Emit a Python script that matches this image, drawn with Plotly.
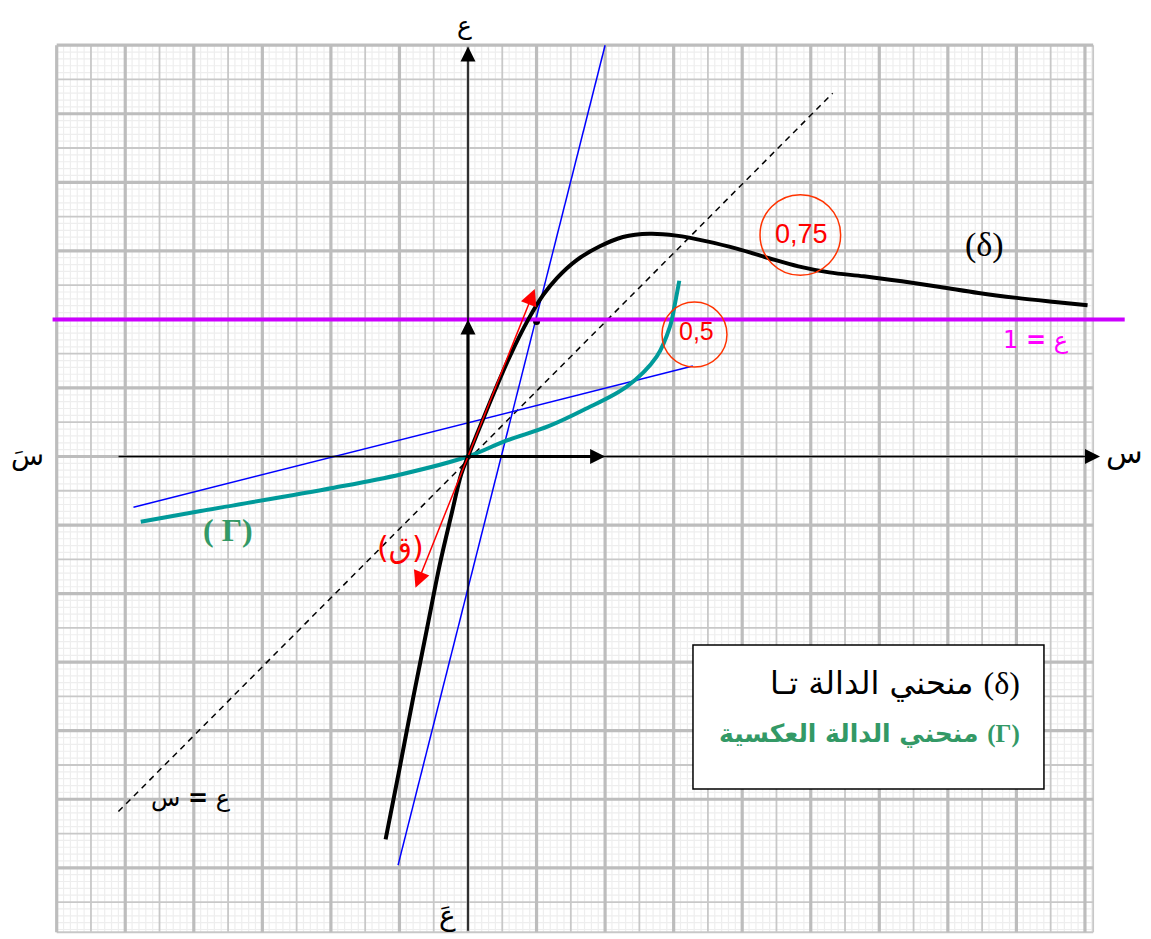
import numpy as np
import plotly.graph_objects as go

# curve (delta)
delta_x = [-0.601, -0.50, -0.40, -0.30, -0.204, -0.12, -0.05, 0.0, 0.1, 0.2, 0.3,
           0.44, 0.55, 0.647, 0.793, 0.962, 1.13, 1.325, 1.52, 1.743, 1.966, 2.19,
           2.41, 2.635, 2.887, 3.165, 3.444, 3.724, 4.002, 4.281, 4.519]
delta_y = [-2.792, -2.28, -1.76, -1.26, -0.78, -0.42, -0.13, 0.0, 0.248, 0.49, 0.72,
           1.0, 1.18, 1.30, 1.433, 1.533, 1.601, 1.625, 1.611, 1.569, 1.514, 1.448,
           1.387, 1.343, 1.314, 1.278, 1.237, 1.193, 1.157, 1.127, 1.103]

# inverse curve (Gamma)
gamma_x = [-2.387, -1.95, -0.978, -0.492, 0.0, 0.27, 0.588, 0.842, 1.158, 1.376,
           1.473, 1.51, 1.541]
gamma_y = [-0.476, -0.398, -0.228, -0.131, 0.0, 0.112, 0.221, 0.339, 0.509, 0.728,
           0.947, 1.117, 1.282]

# straight lines (end points)
tan1_x, tan1_y = [-0.51, 1.0], [-2.98, 3.0]
tan2_x, tan2_y = [-2.44, 1.64], [-0.37, 0.66]
bis_x, bis_y = [-2.55, 2.66], [-2.59, 2.65]
asym_x, asym_y = [-3.03, 4.79], [1.0, 1.0]
tan0_x, tan0_y = [-0.383, 0.487], [-0.957, 1.222]
dot_x, dot_y = [0.5], [0.985]

fig = go.Figure()


def lines(segs, color, width):
    xs, ys = [], []
    for (a, b) in segs:
        xs += [a[0], b[0], None]
        ys += [a[1], b[1], None]
    fig.add_trace(go.Scatter(x=xs, y=ys, mode="lines", hoverinfo="skip",
                             line=dict(color=color, width=width), showlegend=False))


# graph paper
X0, X1, Y0, Y1 = -3.0, 4.56, -3.47, 3.0
fine, med, thick = [], [], []
for k in range(-60, 92):
    x = k / 20
    seg = ((x, Y0), (x, Y1))
    (thick if k % 10 == 0 else med if k % 5 == 0 else fine).append(seg)
for k in range(-69, 61):
    y = k / 20
    seg = ((X0, y), (X1, y))
    (thick if k % 10 == 0 else med if k % 5 == 0 else fine).append(seg)
med += [((X1, Y0), (X1, Y1)), ((X0, Y0), (X1, Y0))]
lines(fine, "#EEEEEE", 1.2)
lines(med, "#C8C8C8", 1.8)
lines(thick, "#BDBDBD", 3.2)

fig.add_trace(go.Scatter(x=bis_x, y=bis_y, mode="lines", hoverinfo="skip", showlegend=False,
                         line=dict(color="black", width=1.5, dash="6px,5px")))
fig.add_trace(go.Scatter(x=tan1_x, y=tan1_y, mode="lines", hoverinfo="skip", showlegend=False,
                         line=dict(color="#0000FF", width=1.5)))
fig.add_trace(go.Scatter(x=tan2_x, y=tan2_y, mode="lines", hoverinfo="skip", showlegend=False,
                         line=dict(color="#0000FF", width=1.5)))
fig.add_trace(go.Scatter(x=dot_x, y=dot_y, mode="markers", hoverinfo="skip", showlegend=False,
                         marker=dict(color="black", size=7)))
fig.add_trace(go.Scatter(x=asym_x, y=asym_y, mode="lines", hoverinfo="skip", showlegend=False,
                         line=dict(color="#CC00FF", width=4)))
fig.add_trace(go.Scatter(x=gamma_x, y=gamma_y, mode="lines", hoverinfo="skip", showlegend=False,
                         line=dict(color="#009A9A", width=4, shape="spline")))
fig.add_trace(go.Scatter(x=delta_x, y=delta_y, mode="lines", hoverinfo="skip", showlegend=False,
                         line=dict(color="black", width=4, shape="spline", smoothing=1.0)))

# arrows: axes, unit vectors, tangent at origin
arrows = [
    ((-2.56, 0), (4.61, 0), "black", 1.5, 2),
    ((0, -3.47), (0, 2.99), "black", 1.5, 2),
    ((0, 0), (1.0, 0), "black", 3, 1),
    ((0, 0), (0, 1.0), "black", 3, 1),
    ((0, 0), (tan0_x[1], tan0_y[1]), "red", 1.5, 2.2),
    ((0, 0), (tan0_x[0], tan0_y[0]), "red", 1.5, 2.2),
]
for tail, head, col, w, s in arrows:
    fig.add_annotation(x=head[0], y=head[1], ax=tail[0], ay=tail[1], xref="x", yref="y",
                       axref="x", ayref="y", text="", showarrow=True, arrowhead=2,
                       arrowsize=s, arrowwidth=w, arrowcolor=col)

# circles and legend box
fig.add_shape(type="circle", x0=2.424 - 0.294, x1=2.424 + 0.294, y0=1.616 - 0.294,
              y1=1.616 + 0.294, line=dict(color="#FF3300", width=1.5))
fig.add_shape(type="circle", x0=1.652 - 0.237, x1=1.652 + 0.237, y0=0.89 - 0.237,
              y1=0.89 + 0.237, line=dict(color="#FF3300", width=1.5))
fig.add_shape(type="rect", x0=1.641, x1=4.201, y0=-2.425, y1=-1.375,
              line=dict(color="black", width=1.5), fillcolor="white")

AR = "DejaVu Sans"
SERIF = "<span style='font-family:Liberation Serif'>%s</span>"
texts = [
    (-0.022, 3.145, "ع", AR, 25, "black", "center"),
    (-3.21, 0.01, "سَ", AR, 27, "black", "center"),
    (4.79, 0.03, "س", AR, 30, "black", "center"),
    (-0.153, -3.35, "عَ", AR, 28, "black", "center"),
    (-2.02, -2.49, "ع <b>=</b> س", AR, 24, "black", "center"),
    (4.14, 0.85, "ع <b>=</b> 1", AR, 24, "#FF00FF", "center"),
    (3.77, 1.54, "(δ)", "Liberation Serif", 34, "black", "center"),
    (-1.75, -0.536, "<b>( Γ)</b>", "Liberation Serif", 32, "#339966", "center"),
    (-0.49, -0.667, "(ق)", AR, 30, "red", "center"),
    (2.43, 1.62, "0,75", "Liberation Sans", 27, "red", "center"),
    (1.67, 0.915, "0,5", "Liberation Sans", 25, "red", "center"),
    (4.04, -1.652, "منحني الدالة تـا " + SERIF % "(δ)", AR, 32, "black", "right"),
    (4.04, -2.017, "<b>منحني الدالة العكسية " + SERIF % "(Γ)" + "</b>", AR, 25,
     "#339966", "right"),
]
for x, y, t, fam, sz, col, anc in texts:
    fig.add_annotation(x=x, y=y, xref="x", yref="y", text=t, showarrow=False,
                       xanchor=anc, yanchor="middle",
                       font=dict(family=fam, size=sz, color=col))

# page body has an 8px margin: figure is drawn from (8, 8) in the window
fig.update_layout(width=1143, height=931, autosize=False,
                  margin=dict(l=0, r=0, t=0, b=0),
                  paper_bgcolor="white", plot_bgcolor="white",
                  xaxis=dict(range=[-3.3552, 4.9818], visible=False, fixedrange=True),
                  yaxis=dict(range=[-3.5193, 3.2713], visible=False, fixedrange=True))

fig.write_html("out.html")
